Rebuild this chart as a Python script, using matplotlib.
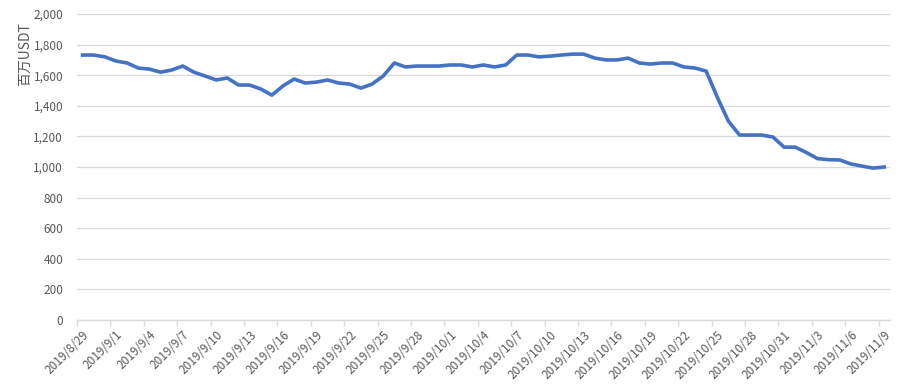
import numpy as np
import pandas as pd
import matplotlib
matplotlib.use("Agg")
import matplotlib.pyplot as plt
from matplotlib.ticker import FixedLocator, FuncFormatter

plt.rcParams['font.family'] = ['Noto Sans CJK SC', 'DejaVu Sans']

# daily values, 2019/8/29 .. 2019/11/9 (百万USDT)
dates = pd.date_range("2019-08-29", "2019-11-09", freq="D")
values = [1732, 1732, 1720, 1693, 1680, 1647, 1640, 1620, 1634, 1660,
          1620, 1595, 1569, 1582, 1536, 1536, 1510, 1470, 1530, 1575,
          1549, 1555, 1569, 1549, 1542, 1516, 1542, 1595, 1680, 1654,
          1660, 1660, 1660, 1667, 1667, 1654, 1667, 1654, 1667, 1732,
          1732, 1720, 1725, 1732, 1738, 1738, 1712, 1700, 1700, 1712,
          1680, 1673, 1680, 1680, 1654, 1647, 1627, 1457, 1300, 1209,
          1209, 1209, 1196, 1130, 1130, 1095, 1055, 1048, 1046, 1020,
          1006, 993, 1000]
y_ticks = list(range(0, 2001, 200))
x_labels = [f"{d.year}/{d.month}/{d.day}" for d in dates]

grey = "#D9D9D9"
txt = "#595959"

fig = plt.figure(figsize=(9.08, 3.9), dpi=100)
ax = fig.add_axes([0.0848, 0.1795, 0.8952, 0.7845])
x = np.arange(len(values))
ax.plot(x, values, color="#4472C4", lw=2.6, solid_joinstyle="round")

ax.set_xlim(-0.5, len(values) - 0.5)
ax.set_ylim(0, 2000)
ax.set_yticks(y_ticks)
ax.yaxis.set_major_formatter(FuncFormatter(lambda v, p: f"{int(v):,}"))
ax.grid(axis="y", color=grey, lw=0.9)
ax.set_axisbelow(True)
for s in ["top", "right", "left"]:
    ax.spines[s].set_visible(False)
ax.spines["bottom"].set_color(grey)
ax.spines["bottom"].set_linewidth(1.0)
ax.tick_params(axis="y", length=0, labelsize=8.5, labelcolor=txt, pad=10)

lab_idx = list(range(0, len(values), 3))
ax.set_xticks(lab_idx)
ax.set_xticklabels([x_labels[i] for i in lab_idx], rotation=45, ha="right",
                   rotation_mode="anchor", fontsize=8.5, color=txt)
ax.tick_params(axis="x", which="major", length=0, pad=6)
ax.xaxis.set_minor_locator(FixedLocator([i - 0.5 for i in lab_idx]))
ax.tick_params(axis="x", which="minor", length=4, color=grey, width=1.0)

fig.text(0.028, 0.86, "百万USDT", rotation=90, ha="center", va="center",
         fontsize=10, color=txt)

fig.savefig("out.png", dpi=100)
